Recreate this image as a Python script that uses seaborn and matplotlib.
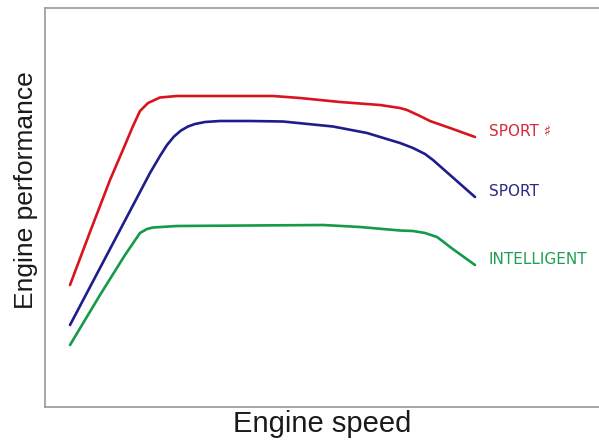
import matplotlib
matplotlib.use("Agg")
import matplotlib.pyplot as plt
import seaborn as sns
import pandas as pd

# curves (arbitrary units)
sport_plus_x = [25, 45, 65, 80, 88, 95, 103, 115, 132, 155, 228, 255, 295, 335, 355, 362, 375, 385, 405, 430]
sport_plus_y = [122, 175, 227, 262, 281, 296, 304, 309.5, 311, 311, 311, 309, 305, 302, 299, 297, 291, 286, 279, 270]

sport_x = [25, 55, 85, 105, 115, 122, 129, 136, 143, 150, 160, 175, 205, 238, 288, 322, 355, 368, 380, 388, 405, 430]
sport_y = [82, 139, 196, 234, 251, 262, 270.5, 276.5, 280.5, 283, 285, 286, 286, 285.5, 280.5, 274, 264, 259, 253, 247, 232, 210]

intel_x = [25, 55, 80, 95, 102, 108, 132, 175, 278, 315, 355, 368, 380, 392, 400, 405, 430]
intel_y = [62, 112, 152, 174, 178, 179.5, 181, 181.3, 182, 180, 176.5, 176, 174, 170, 164, 160, 142]

modes = ["SPORT \u266f", "SPORT", "INTELLIGENT"]
line_colors = ["#d8141e", "#1d1d8c", "#149a48"]
text_colors = ["#d42a3c", "#2a2a86", "#1f9e52"]

df = pd.concat([
    pd.DataFrame({"speed": sport_plus_x, "perf": sport_plus_y, "mode": modes[0]}),
    pd.DataFrame({"speed": sport_x, "perf": sport_y, "mode": modes[1]}),
    pd.DataFrame({"speed": intel_x, "perf": intel_y, "mode": modes[2]}),
])

sns.set_style("white")
plt.rcParams["font.family"] = ["Liberation Sans", "DejaVu Sans"]

fig = plt.figure(figsize=(5.99, 4.45), dpi=100)
ax = fig.add_axes([45 / 599, 38 / 445, 554 / 599, 399 / 445])

sns.lineplot(data=df, x="speed", y="perf", hue="mode", palette=dict(zip(modes, line_colors)),
             sort=False, estimator=None, linewidth=1.9, legend=False, ax=ax)

# end labels
for m, c in zip(modes, text_colors):
    sub = df[df["mode"] == m]
    ax.text(sub["speed"].iloc[-1] + 14, sub["perf"].iloc[-1] + 5, m, color=c,
            fontsize=11, va="center", ha="left", family=["Liberation Sans Narrow", "DejaVu Sans"])

ax.set_xlim(0, 554)
ax.set_ylim(0, 399)
ax.set_xticks([])
ax.set_yticks([])
ax.set_xlabel("Engine speed", fontsize=21, color="#1a1a1a")
ax.set_ylabel("Engine performance", fontsize=19, color="#1a1a1a")
ax.xaxis.set_label_coords(0.5, -0.008)
ax.yaxis.set_label_coords(-0.013, 0.543)

for side in ["left", "bottom", "top"]:
    ax.spines[side].set_color("#a0a0a0")
    ax.spines[side].set_linewidth(1.3)
ax.spines["right"].set_visible(False)

fig.savefig("out.png", dpi=100)
